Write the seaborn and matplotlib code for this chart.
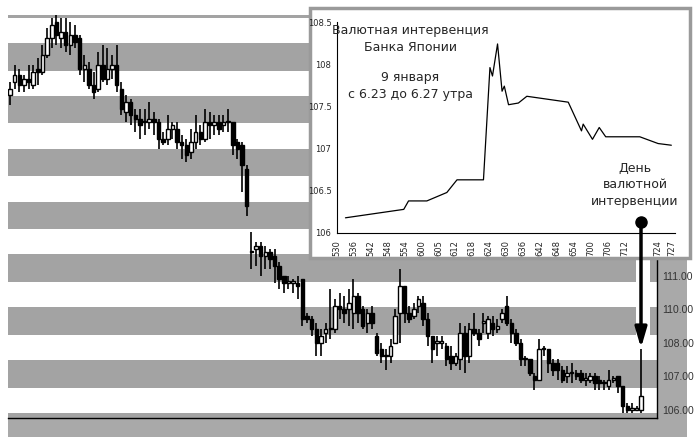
import numpy as np
import pandas as pd
import matplotlib
matplotlib.use('Agg')
import matplotlib.pyplot as plt
from matplotlib.patches import Rectangle
import seaborn as sns

# daily candles USD/JPY (open, close, high, low)
opens = [115.4, 115.8, 116.0, 115.7, 115.9, 115.7, 116.2, 116.1, 116.6, 117.1, 117.6, 117.1, 117.3, 116.9, 117.2, 117.1,
         116.2, 116.2, 115.7, 115.6, 116.3, 115.9, 116.2, 116.3, 115.6, 114.9, 115.2, 114.8, 114.7, 114.6, 114.6, 114.7,
         114.6, 114.1, 114.1, 114.4, 114.4, 114.0, 113.9, 113.7, 114.0, 114.3, 114.1, 114.6, 114.5, 114.6, 114.5, 114.6,
         114.6, 114.0, 113.9, 113.2,
         110.7, 110.8, 110.9, 110.6, 110.7, 110.6, 110.3, 110.0, 109.8, 109.8, 109.8, 109.9, 108.8, 108.7, 108.4, 108.0,
         108.3, 108.4, 108.4, 109.1, 109.0, 109.0, 108.9, 109.4, 109.0, 108.6, 108.9, 108.2, 107.8, 107.6, 107.6, 108.0,
         108.9, 109.7, 108.9, 108.8, 109.1, 109.2, 108.7, 108.2, 108.0, 108.0, 107.9, 107.6, 107.4, 107.5, 108.3, 107.6,
         108.4, 108.3, 108.6, 108.3, 108.6, 108.4, 108.7, 109.1, 108.6, 108.3, 108.0, 107.5, 107.5, 107.0, 106.9, 107.8,
         107.8, 107.4, 107.4, 107.2, 107.0, 107.1, 107.1, 107.1, 106.9, 106.9, 107.0, 106.9, 106.8, 106.7, 106.9, 107.0,
         106.7, 106.1, 106.0, 106.0, 106.0]
closes = [115.6, 116.0, 115.7, 115.9, 115.8, 116.1, 116.1, 116.6, 117.1, 117.5, 117.2, 117.3, 116.9, 117.2, 117.0, 116.2,
          116.3, 115.7, 115.5, 116.3, 115.9, 116.2, 116.3, 115.7, 115.0, 115.2, 114.8, 114.7, 114.5, 114.6, 114.7, 114.6,
          114.1, 114.0, 114.4, 114.5, 114.0, 113.9, 113.6, 114.0, 114.3, 114.1, 114.6, 114.5, 114.6, 114.4, 114.6, 114.6,
          113.9, 113.8, 113.3, 112.1,
          110.7, 110.9, 110.6, 110.7, 110.5, 110.3, 109.9, 109.8, 109.8, 109.8, 109.7, 108.7, 108.7, 108.4, 108.0, 108.2,
          108.4, 108.4, 109.1, 109.0, 108.9, 109.2, 109.4, 108.9, 108.5, 108.9, 108.6, 107.7, 107.6, 107.6, 107.9, 108.8,
          109.7, 108.9, 108.7, 109.0, 109.3, 108.7, 108.2, 107.8, 108.0, 108.0, 107.5, 107.4, 107.6, 108.3, 107.6, 108.4,
          108.3, 108.1, 108.6, 108.7, 108.4, 108.5, 108.9, 108.6, 108.3, 108.0, 107.5, 107.5, 107.1, 106.9, 107.8, 107.8,
          107.4, 107.2, 107.2, 106.9, 107.1, 107.1, 107.0, 106.9, 106.9, 107.0, 106.8, 106.8, 106.8, 106.9, 106.9, 106.7,
          106.1, 106.0, 106.0, 106.0, 106.4]
highs = [115.8, 116.3, 116.2, 116.0, 116.3, 116.3, 116.5, 116.9, 117.4, 117.7, 117.8, 117.7, 117.7, 117.6, 117.5, 117.2,
         116.6, 116.4, 116.1, 116.7, 116.9, 116.8, 116.6, 116.9, 115.8, 115.4, 115.3, 115.0, 115.0, 115.0, 115.2, 114.9,
         114.7, 114.3, 114.8, 114.6, 114.6, 114.2, 114.1, 114.4, 114.8, 114.5, 115.0, 114.9, 114.8, 114.8, 114.8, 115.0,
         114.6, 114.1, 114.0, 113.3,
         111.3, 111.0, 111.0, 110.9, 110.8, 110.8, 110.4, 110.0, 110.0, 109.9, 110.0, 109.9, 108.9, 108.8, 108.6, 108.4,
         108.6, 109.6, 109.3, 109.5, 109.4, 109.6, 109.9, 109.5, 109.1, 109.0, 109.1, 108.3, 108.0, 107.8, 108.1, 109.0,
         110.2, 109.7, 109.1, 109.2, 109.4, 109.4, 108.9, 108.1, 108.2, 108.2, 108.0, 107.9, 107.7, 108.6, 108.5, 108.6,
         108.9, 108.4, 108.9, 108.8, 108.8, 108.7, 109.0, 109.4, 108.7, 108.4, 108.1, 107.6, 107.5, 107.1, 108.1, 107.9,
         107.8, 107.5, 107.5, 107.3, 107.3, 107.4, 107.2, 107.2, 107.1, 107.1, 107.1, 107.0, 106.9, 107.2, 107.0, 107.0,
         106.7, 106.2, 106.2, 106.1, 107.8]
lows = [115.1, 115.6, 115.5, 115.5, 115.6, 115.6, 115.7, 116.0, 116.5, 116.8, 116.9, 116.8, 116.7, 116.6, 116.8, 116.0,
        115.8, 115.6, 115.3, 115.5, 115.8, 115.7, 115.9, 115.5, 114.8, 114.6, 114.5, 114.3, 114.1, 114.2, 114.4, 114.2,
        113.8, 113.9, 113.9, 114.1, 113.8, 113.5, 113.4, 113.5, 113.8, 113.9, 114.0, 114.1, 114.2, 114.2, 114.3, 114.3,
        113.6, 113.5, 112.5, 111.8,
        110.2, 110.3, 110.0, 110.2, 110.2, 109.8, 109.6, 109.5, 109.6, 109.5, 109.3, 108.5, 108.6, 108.2, 107.6, 107.6,
        108.0, 108.1, 108.3, 108.7, 108.6, 108.5, 108.4, 108.6, 108.4, 108.3, 108.4, 107.6, 107.4, 107.2, 107.4, 108.0,
        108.0, 108.6, 108.6, 108.7, 108.9, 108.5, 107.9, 107.4, 107.6, 107.8, 107.3, 107.2, 107.3, 107.2, 107.1, 107.4,
        108.2, 107.9, 108.3, 108.1, 108.2, 108.3, 108.6, 108.5, 108.0, 107.9, 107.3, 107.3, 107.0, 106.6, 106.9, 107.6,
        107.1, 107.0, 106.9, 106.8, 106.8, 106.8, 106.9, 106.8, 106.7, 106.8, 106.6, 106.6, 106.6, 106.6, 106.8, 106.5,
        105.9, 105.9, 105.9, 106.0, 105.9]

price_ticks = [106, 107, 108, 109, 110]
price_labels = ['106.00', '107.00', '108.00', '110.00', '111.00']

# intraday line on 9 January (minutes after 5:30)
minutes = [3.0, 23.7, 25.4, 31.9, 39.0, 42.6, 52.0, 54.3, 55.2, 57.0, 58.6, 59.4, 60.9, 64.4, 67.4,
           82.1, 86.8, 87.4, 90.7, 93.1, 95.4, 107.5, 114.0, 118.7]
rate = [106.18, 106.28, 106.38, 106.38, 106.48, 106.63, 106.63, 107.96, 107.86, 108.24, 107.68, 107.74, 107.52,
        107.54, 107.62, 107.55, 107.21, 107.29, 107.11, 107.25, 107.14, 107.14, 107.06, 107.04]
time_labels = ['530', '536', '542', '548', '554', '600', '605', '612', '618', '624', '630', '636',
               '642', '648', '654', '700', '706', '712', '', '724', '727']
time_ticks = [0, 6, 12, 18, 24, 30, 36, 42, 48, 54, 60, 66, 72, 78, 84, 90, 96, 102, 108, 114, 119]

sns.set_style('white')
plt.rcParams['font.family'] = ['DejaVu Sans']

fig = plt.figure(figsize=(6.96, 4.47), dpi=100)
W, H = 696, 447

def fx(px):
    return px / W

def fy(py):
    return 1 - py / H

# gray frame behind chart
fig.patches.append(Rectangle((fx(8), fy(437)), fx(679), (437 - 15) / H, transform=fig.transFigure,
                             facecolor='#a9a9a9', edgecolor='none', zorder=-2))

ax = fig.add_axes([fx(8), fy(418), fx(657 - 8), (418 - 15) / H])
ax.set_facecolor('white')
ax.set_xlim(-0.43, 139.4)
ax.set_ylim(105.75, 117.8)

# horizontal stripes
for b in np.arange(105.08, 118.5, 1.58):
    ax.axhspan(b, b + 0.82, color='#a3a3a3', lw=0, zorder=0)

df = pd.DataFrame({'o': opens, 'c': closes, 'h': highs, 'l': lows})
df['i'] = np.arange(len(df))
ax.vlines(df['i'], df['l'], df['h'], color='black', lw=1.2, zorder=2)
up = df[df['c'] >= df['o']]
dn = df[df['c'] < df['o']]
ax.bar(up['i'], (up['c'] - up['o']).clip(lower=0.04), bottom=up['o'], width=0.75,
       facecolor='white', edgecolor='black', lw=1.0, zorder=3)
ax.bar(dn['i'], dn['c'] - dn['o'], bottom=dn['o'], width=0.75,
       facecolor='black', edgecolor='black', lw=1.0, zorder=3)

ax.yaxis.tick_right()
ax.set_yticks(price_ticks)
ax.set_yticklabels(price_labels, fontsize=7.5, color='#333333', family='Liberation Sans')
ax.tick_params(axis='y', length=0, pad=4)
ax.set_xticks([9.9, 57.8, 82.3, 104.3, 129.7])
ax.set_xticklabels([])
ax.tick_params(axis='x', length=3, direction='out', color='black')
for s in ['top', 'left']:
    ax.spines[s].set_visible(False)
for s in ['bottom', 'right']:
    ax.spines[s].set_color('black')
    ax.spines[s].set_linewidth(1)

# white gap behind arrow
fig.patches.append(Rectangle((fx(636), fy(338)), fx(14), (338 - 252) / H, transform=fig.transFigure,
                             facecolor='white', edgecolor='none', zorder=1))

# inset box
fig.patches.append(Rectangle((fx(310), fy(258)), fx(380), 250 / H, transform=fig.transFigure,
                             facecolor='white', edgecolor='#9a9a9a', lw=2.5, zorder=1.5))
ins = fig.add_axes([fx(337), fy(233), fx(675 - 337), (233 - 22) / H], zorder=2)
sns.lineplot(x=minutes, y=rate, ax=ins, color='black', lw=0.9)
ins.set_xlim(0, 120)
ins.set_ylim(106, 108.5)
ins.set_yticks([106, 106.5, 107, 107.5, 108, 108.5])
ins.set_yticklabels(['106', '106.5', '107', '107.5', '108', '108.5'], fontsize=6, family='Liberation Sans Narrow')
ins.set_xticks(time_ticks)
ins.set_xticklabels(time_labels, rotation=90, fontsize=6, family='Liberation Sans Narrow')
ins.set_xticks(np.arange(0, 121, 1), minor=True)
ins.tick_params(axis='both', which='major', length=3, direction='out', pad=1)
ins.tick_params(axis='x', which='minor', length=3, direction='out')
ins.tick_params(axis='x', which='major', length=4)
for s in ['top', 'right']:
    ins.spines[s].set_visible(False)
ins.spines['left'].set_color('black')
ins.spines['bottom'].set_color('black')
ins.patch.set_alpha(0)

# overlay for annotations and arrow
top = fig.add_axes([0, 0, 1, 1], zorder=10)
top.set_xlim(0, W)
top.set_ylim(H, 0)
top.axis('off')
top.patch.set_alpha(0)

top.text(410, 39, 'Валютная интервенция\nБанка Японии', ha='center', va='center',
         fontsize=9, linespacing=1.35)
top.text(410, 86, '9 января\nс 6.23 до 6.27 утра', ha='center', va='center',
         fontsize=9, linespacing=1.35)
top.text(635, 185, 'День\nвалютной\nинтервенции', ha='center', va='center',
         fontsize=9, linespacing=1.35)

top.annotate('', xy=(641, 348), xytext=(641, 222),
             arrowprops=dict(arrowstyle='-|>,head_width=0.35,head_length=1.2', color='black', lw=2.5,
                             shrinkA=0, shrinkB=0))
top.plot([641], [222], marker='o', markersize=8, color='black')

fig.savefig('out.png', dpi=100)
